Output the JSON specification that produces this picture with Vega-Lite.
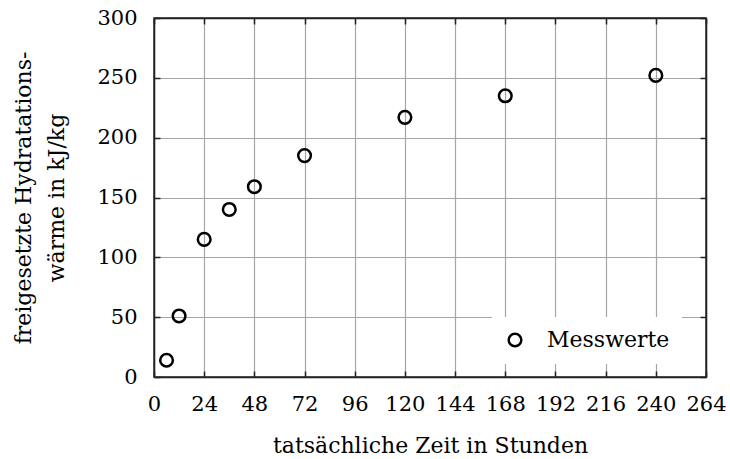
{
  "$schema": "https://vega.github.io/schema/vega-lite/v6.json",
  "width": 552,
  "height": 359,
  "autosize": {"type": "none"},
  "padding": {"left": 154, "top": 18, "right": 24, "bottom": 82},
  "background": "white",
  "config": {
    "font": "DejaVu Serif",
    "view": {"stroke": "#222", "strokeWidth": 1.5},
    "axis": {
      "domainColor": "#222",
      "domainWidth": 1.5,
      "gridColor": "#a6a6a6",
      "gridWidth": 1.2,
      "gridOpacity": 1,
      "tickColor": "#222",
      "tickWidth": 1.5,
      "tickSize": -6,
      "labelFont": "DejaVu Serif",
      "labelFontSize": 21,
      "labelColor": "black",
      "titleFont": "DejaVu Serif",
      "titleFontSize": 22,
      "titleFontWeight": "normal",
      "titleColor": "black"
    }
  },
  "data": {
    "values": [
      {"stunden": 6, "waerme": 14, "reihe": "Messwerte"},
      {"stunden": 12, "waerme": 51, "reihe": "Messwerte"},
      {"stunden": 24, "waerme": 115, "reihe": "Messwerte"},
      {"stunden": 36, "waerme": 140, "reihe": "Messwerte"},
      {"stunden": 48, "waerme": 159, "reihe": "Messwerte"},
      {"stunden": 72, "waerme": 185, "reihe": "Messwerte"},
      {"stunden": 120, "waerme": 217, "reihe": "Messwerte"},
      {"stunden": 168, "waerme": 235, "reihe": "Messwerte"},
      {"stunden": 240, "waerme": 252, "reihe": "Messwerte"}
    ]
  },
  "layer": [
    {
      "mark": {"type": "point", "filled": false, "size": 160, "strokeWidth": 2.5, "color": "black", "opacity": 1},
      "encoding": {
        "x": {
          "field": "stunden", "type": "quantitative",
          "scale": {"domain": [0, 264], "nice": false, "zero": false},
          "axis": {
            "values": [0, 24, 48, 72, 96, 120, 144, 168, 192, 216, 240, 264],
            "title": "tatsächliche Zeit in Stunden",
            "labelPadding": 22,
            "titlePadding": 21,
            "labelFlush": false,
            "labelOverlap": false
          }
        },
        "y": {
          "field": "waerme", "type": "quantitative",
          "scale": {"domain": [0, 300], "nice": false},
          "axis": {
            "values": [0, 50, 100, 150, 200, 250, 300],
            "title": ["freigesetzte Hydratations-", "wärme in kJ/kg"],
            "titleLineHeight": 33,
            "labelPadding": 23,
            "titlePadding": 28,
            "labelOverlap": false
          }
        },
        "shape": {
          "field": "reihe", "type": "nominal",
          "scale": {"range": ["circle"]},
          "legend": {
            "title": null,
            "orient": "none",
            "legendX": 338,
            "legendY": 299,
            "fillColor": "white",
            "padding": 12,
            "symbolSize": 160,
            "symbolStrokeWidth": 2.5,
            "symbolStrokeColor": "black",
            "symbolFillColor": "transparent",
            "symbolOpacity": 1,
            "labelFont": "DejaVu Serif",
            "labelFontSize": 22,
            "labelColor": "black",
            "labelOffset": 21
          }
        }
      }
    },
    {
      "mark": {"type": "point", "opacity": 0},
      "encoding": {
        "x": {
          "field": "stunden", "type": "quantitative",
          "axis": {
            "orient": "top",
            "values": [0, 24, 48, 72, 96, 120, 144, 168, 192, 216, 240, 264],
            "labels": false, "title": null, "grid": false
          }
        },
        "y": {
          "field": "waerme", "type": "quantitative",
          "axis": {
            "orient": "right",
            "values": [0, 50, 100, 150, 200, 250, 300],
            "labels": false, "title": null, "grid": false
          }
        }
      }
    }
  ],
  "resolve": {"axis": {"x": "independent", "y": "independent"}}
}
